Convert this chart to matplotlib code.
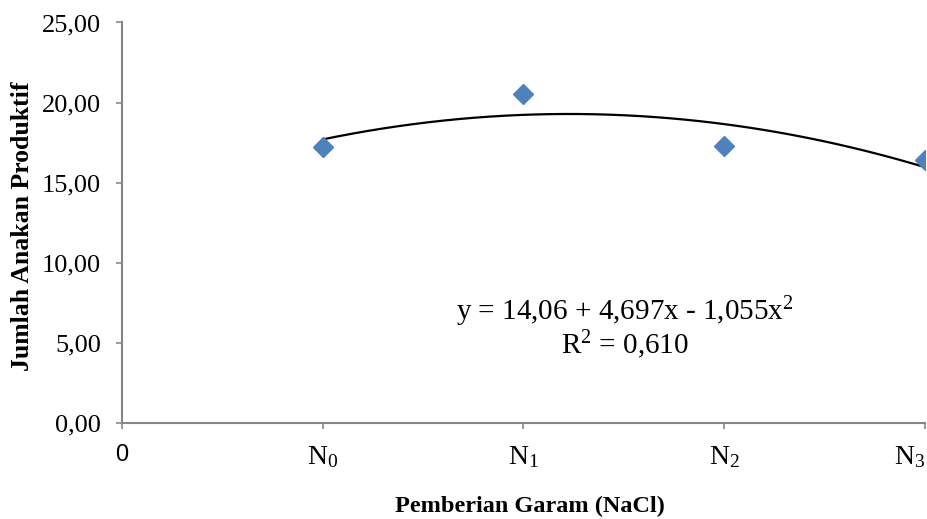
import numpy as np
import matplotlib
matplotlib.use("Agg")
from matplotlib import pyplot as plt

# data
x_pos = [1, 2, 3, 4]
jumlah_anakan = [17.21, 20.51, 17.27, 16.40]
tick_pos = [0, 1, 2, 3, 4]
tick_labels = ["0", r"N$_0$", r"N$_1$", r"N$_2$", r"N$_3$"]
y_ticks = [0, 5, 10, 15, 20, 25]
# trend line coefficients as printed in the chart (c0, c1, c2)
coef = [14.06, 4.697, -1.055]
r2 = 0.610

plt.rcParams["font.family"] = "Liberation Serif"
plt.rcParams["mathtext.fontset"] = "custom"
plt.rcParams["mathtext.rm"] = "Liberation Serif"
plt.rcParams["mathtext.it"] = "Liberation Serif:italic"

axis_grey = "#868686"

fig = plt.figure(figsize=(9.27, 5.19), dpi=100)
ax = fig.add_axes([0.1316, 0.185, 0.8662, 0.7717])

ax.plot(x_pos, jumlah_anakan, linestyle="none", marker="D", markersize=10.5,
        color="#4F81BD", zorder=3)

xs = np.linspace(x_pos[0], x_pos[-1], 200)
ax.plot(xs, coef[0] + coef[1] * xs + coef[2] * xs ** 2, color="black", lw=1.6, zorder=2)

eq = "y = 14,06 + 4,697x - 1,055x$^2$\nR$^2$ = " + f"{r2:.3f}".replace(".", ",")
ax.text(2.506, 5.95, eq, ha="center", va="center", fontsize=21, linespacing=1.0)

ax.set_xlim(0, 4)
ax.set_ylim(0, 25)
ax.set_xticks(tick_pos)
ax.set_xticklabels(tick_labels, fontsize=20)
ax.set_yticks(y_ticks)
ax.set_yticklabels([f"{v:.2f}".replace(".", ",") for v in y_ticks], fontsize=19)

for side in ["top", "right"]:
    ax.spines[side].set_visible(False)
for side in ["left", "bottom"]:
    ax.spines[side].set_color(axis_grey)
    ax.spines[side].set_linewidth(1.5)
ax.tick_params(axis="both", direction="out", length=4, width=1.2, color=axis_grey)
ax.tick_params(axis="y", pad=11)
ax.tick_params(axis="x", pad=11)

xticks = ax.xaxis.get_major_ticks()
xticks[0].label1.set_fontfamily("Liberation Sans")
xticks[0].label1.set_fontsize(17)
# last label is pulled inside the figure edge
xticks[-1].label1.set_horizontalalignment("right")

ax.set_xlabel("Pemberian Garam (NaCl)", fontsize=17.5, fontweight="bold")
ax.xaxis.set_label_coords(0.508, -0.209)
ax.set_ylabel("Jumlah Anakan Produktif", fontsize=18.5, fontweight="bold")
ax.yaxis.set_label_coords(-0.1245, 0.49)
ax.xaxis.label.set_verticalalignment("center")
ax.yaxis.label.set_verticalalignment("center")

fig.savefig("out.png", dpi=100)
